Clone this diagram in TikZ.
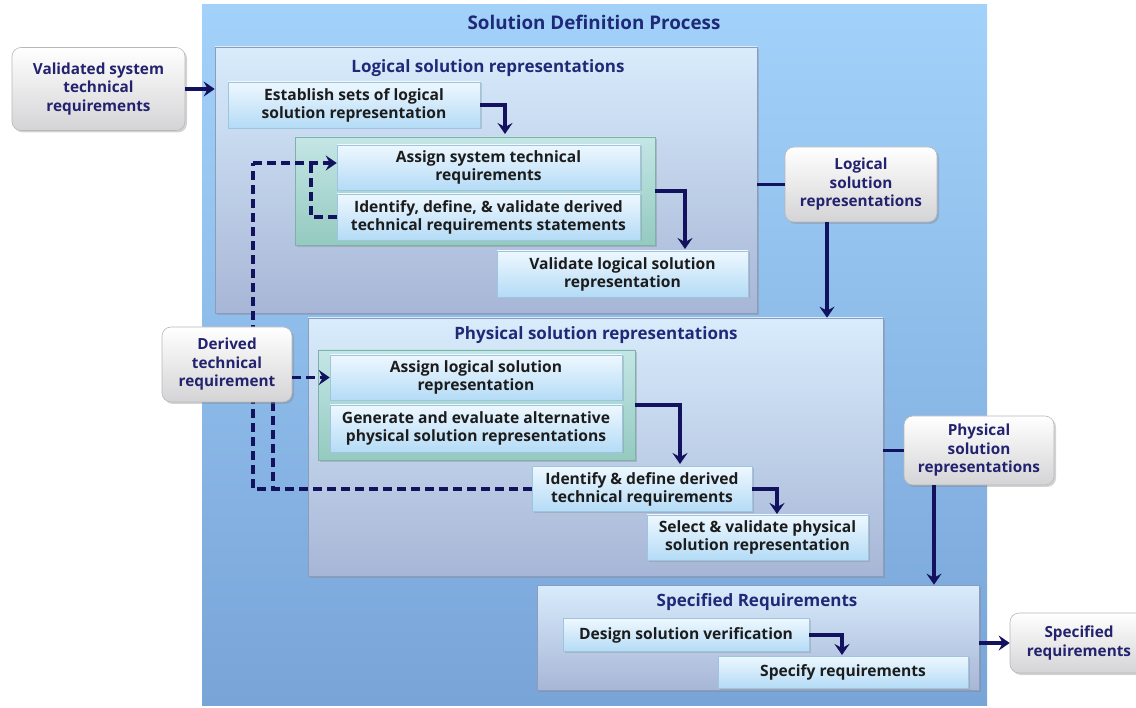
\documentclass[tikz,border=0pt]{standalone}
\usepackage{fontspec}
\setmainfont{Open Sans}
\usetikzlibrary{arrows.meta,shadows}

\definecolor{navy}{HTML}{12125E}
\definecolor{titlec}{HTML}{1E2A78}
\definecolor{labelc}{HTML}{22226E}
\definecolor{taskc}{HTML}{1C1C1C}
\definecolor{outertop}{HTML}{A2D2FA}
\definecolor{outerbot}{HTML}{78A4D8}
\definecolor{grptop}{HTML}{D8ECFC}
\definecolor{grpbot}{HTML}{A7B6D6}
\definecolor{grpedge}{HTML}{8E9CBC}
\definecolor{grntop}{HTML}{C4E6E6}
\definecolor{grnbot}{HTML}{94CABF}
\definecolor{grnedge}{HTML}{7FB0AA}
\definecolor{tasktop}{HTML}{EEF8FF}
\definecolor{taskbot}{HTML}{B4DBF6}
\definecolor{taskedge}{HTML}{9EC4E0}
\definecolor{lblbot}{HTML}{D4D4D6}
\definecolor{lbledge}{HTML}{B8B8BC}

\tikzset{
  outerbox/.style={rectangle, draw=none, inner sep=0pt, top color=outertop, bottom color=outerbot},
  groupbox/.style={rectangle, inner sep=0pt, draw=grpedge, line width=0.6pt,
    top color=grptop, bottom color=grpbot,
    drop shadow={shadow xshift=2pt, shadow yshift=-2pt, opacity=0.35}},
  greenbox/.style={rectangle, inner sep=0pt, draw=grnedge, line width=0.6pt,
    top color=grntop, bottom color=grnbot,
    drop shadow={shadow xshift=2pt, shadow yshift=-2pt, opacity=0.35}},
  taskbox/.style={rectangle, inner sep=1pt, draw=taskedge, line width=0.5pt,
    top color=tasktop, bottom color=taskbot, text=taskc, align=center,
    font=\bfseries\fontsize{15.6}{18}\selectfont,
    drop shadow={shadow xshift=1.5pt, shadow yshift=-1.5pt, opacity=0.3}},
  flowlabel/.style={rectangle, rounded corners=9pt, inner sep=1pt, draw=lbledge, line width=0.6pt,
    top color=white, bottom color=lblbot, text=labelc, align=center,
    font=\bfseries\fontsize{15.3}{18.5}\selectfont,
    drop shadow={shadow xshift=2pt, shadow yshift=-2pt, opacity=0.35}},
  headtext/.style={text=titlec, font=\bfseries\fontsize{17}{20}\selectfont, inner sep=0pt},
  arr/.style={draw=navy, line width=3.6pt, -{Stealth[length=11pt, width=15pt, inset=4pt]}},
  plainline/.style={draw=navy, line width=3.6pt},
  dasharr/.style={draw=navy, line width=3.2pt, dash pattern=on 9pt off 5pt,
    -{Stealth[length=11pt, width=15pt, inset=4pt]}},
  dashline/.style={draw=navy, line width=3.2pt, dash pattern=on 9pt off 5pt},
}

\begin{document}
\begin{tikzpicture}[x=1pt, y=-1pt]
\useasboundingbox (0,0) rectangle (1136,708);

% ---------- containers ----------
\node[outerbox, minimum width=785, minimum height=700] (outer) at (594.5,355) {};
\node[headtext, font=\bfseries\fontsize{18.8}{22}\selectfont] (outertitle) at (594,22)
  {Solution Definition Process};

\node[groupbox, minimum width=542, minimum height=266] (logical) at (486,180) {};
\node[headtext] (logtitle) at (488,68) {Logical solution representations};

\node[groupbox, minimum width=575, minimum height=258] (phys) at (595.5,447) {};
\node[headtext] (phystitle) at (596,335) {Physical solution representations};

\node[groupbox, minimum width=442, minimum height=105] (spec) at (758,637.5) {};
\node[headtext] (spectitle) at (757,602) {Specified Requirements};

% ---------- logical solution tasks ----------
\node[taskbox, minimum width=252, minimum height=46] (est) at (354,105)
  {Establish sets of logical\\solution representation};
\node[greenbox, minimum width=360, minimum height=108] (lgreen) at (475,191) {};
\node[taskbox, minimum width=303, minimum height=45] (ast) at (488.5,167.5)
  {Assign system technical\\requirements};
\node[taskbox, minimum width=303, minimum height=46] (idv) at (488.5,217)
  {Identify, define, \& validate derived\\technical requirements statements};
\node[taskbox, minimum width=251, minimum height=46] (vls) at (622.5,274)
  {Validate logical solution\\representation};

% ---------- physical solution tasks ----------
\node[greenbox, minimum width=317, minimum height=110] (pgreen) at (476.5,405) {};
\node[taskbox, minimum width=292, minimum height=45] (alr) at (476,377.5)
  {Assign logical solution\\representation};
\node[taskbox, minimum width=292, minimum height=47] (gen) at (476,428.5)
  {Generate and evaluate alternative\\physical solution representations};
\node[taskbox, minimum width=220, minimum height=45] (idd) at (642,489)
  {Identify \& define derived\\technical requirements};
\node[taskbox, minimum width=221, minimum height=45] (sel) at (757.5,537.5)
  {Select \& validate physical\\solution representation};

% ---------- specified requirements tasks ----------
\node[taskbox, minimum width=246, minimum height=33] (dsv) at (686,635)
  {Design solution verification};
\node[taskbox, minimum width=250, minimum height=32] (spr) at (843,672)
  {Specify requirements};

% ---------- inputs and outputs ----------
\node[flowlabel, minimum width=173, minimum height=83] (vst) at (98.5,89)
  {Validated system\\technical\\requirements};
\node[flowlabel, minimum width=152, minimum height=75] (lsr) at (861,184.5)
  {Logical\\solution\\representations};
\node[flowlabel, minimum width=150, minimum height=69] (psr) at (979,450.5)
  {Physical\\solution\\representations};
\node[flowlabel, minimum width=138, minimum height=60] (sr) at (1079,643)
  {Specified\\requirements};

% ---------- bend points ----------
\coordinate (b1) at (505,134);
\coordinate (b2) at (685,249);
\coordinate (b3) at (680,464);
\coordinate (b4) at (777,514);
\coordinate (b5) at (842,655);
\coordinate (dA) at (253,163);
\coordinate (dB) at (311,163);
\coordinate (dC) at (273,402);

% ---------- derived requirement feedback (dashed) ----------
\draw[dashline] (idd.west) -| (dA);
\draw[dasharr] (dA) -- (dA -| ast.west);
\draw[dashline] (idv.west) -| (dB);
\draw[dashline] (dC) -- (dC |- idd.west);

\node[flowlabel, minimum width=130, minimum height=75] (dtr) at (227,364.5)
  {Derived\\technical\\requirement};
\draw[dasharr] (dtr.east |- alr.west) -- (alr.west);

% ---------- solid flow ----------
\draw[arr] (vst.east) -- (vst.east -| logical.west);
\draw[arr] (est.east) -| (b1);
\draw[arr] (lgreen.east) -| (b2);
\draw[plainline] (lsr.west -| logical.east) -- (lsr.west);
\draw[arr] ([xshift=-34pt]lsr.south) -- ([xshift=-34pt]lsr.south |- phys.north);
\draw[arr] (pgreen.east) -| (b3);
\draw[arr] (idd.east) -| (b4);
\draw[plainline] (psr.west -| phys.east) -- (psr.west);
\draw[arr] ([xshift=-45pt]psr.south) -- ([xshift=-45pt]psr.south |- spec.north);
\draw[arr] (dsv.east) -| (b5);
\draw[arr] (sr.west -| spec.east) -- (sr.west);
\end{tikzpicture}
\end{document}
